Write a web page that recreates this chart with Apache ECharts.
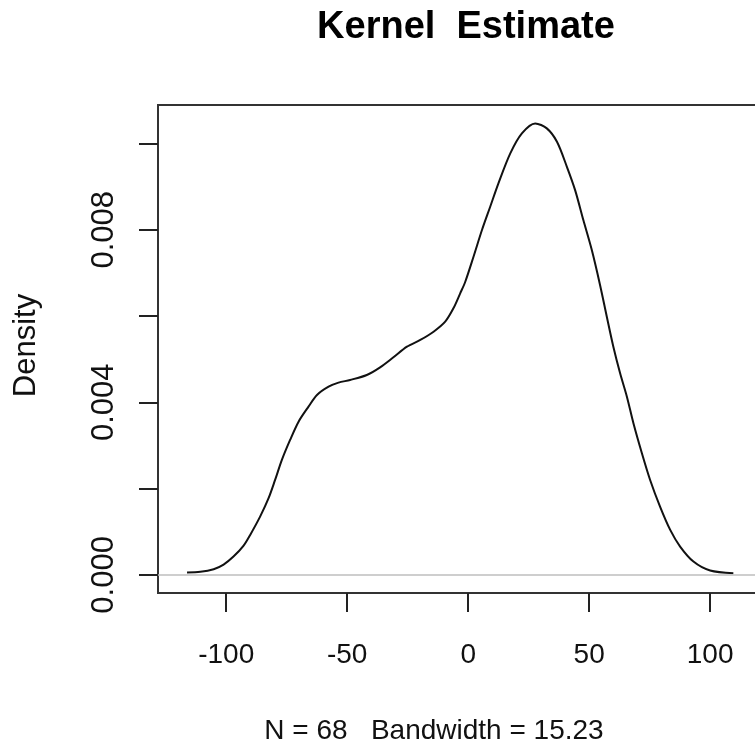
<!DOCTYPE html>
<html>
<head>
<meta charset="utf-8">
<script src="https://cdn.jsdelivr.net/npm/echarts@6/dist/echarts.min.js"></script>
<style>
html,body{margin:0;padding:0;background:#fff;}
#c{width:755px;height:754px;}
</style>
</head>
<body>
<div id="c"></div>
<script>
// Density curve (x, density)
var xs = [-116.2,-110.7,-105.2,-101.1,-97.0,-92.9,-90.1,-86.0,-82.5,-79.8,-77.0,-73.6,-70.1,-66.0,-62.5,-57.7,-53.6,-48.8,-41.9,-36.4,-30.9,-25.3,-19.8,-14.3,-9.5,-6.1,-3.3,-1.2,2.2,5.7,9.1,12.5,17.4,22.2,27.7,32.5,36.7,40.8,44.2,47.6,51.1,54.5,57.3,60.0,62.8,65.6,68.3,71.8,75.2,79.3,83.5,87.6,93.1,100.0,109.6];
var ys = [0.000053,0.00007,0.000132,0.000239,0.000424,0.000672,0.000927,0.00135,0.001777,0.0022,0.002664,0.003127,0.003551,0.003899,0.00417,0.004362,0.004455,0.004517,0.004633,0.004811,0.005043,0.005289,0.005444,0.005636,0.005868,0.006178,0.006525,0.006794,0.007373,0.007992,0.008532,0.009073,0.009768,0.010232,0.010463,0.010348,0.010037,0.009458,0.008918,0.008223,0.007528,0.00672,0.005983,0.005288,0.004672,0.00413,0.003514,0.002819,0.0022,0.001582,0.001042,0.000656,0.000308,0.0001,0.00004];
var xTicks = [-100,-50,0,50,100];
var yTicks = [0,0.002,0.004,0.006,0.008,0.010];
var yLabels = [0,0.004,0.008];
var titleText = 'Kernel  Estimate';
var subText = 'N = 68   Bandwidth = 15.23';
var yName = 'Density';

var data = xs.map(function(x,i){return [x, ys[i]];});
var FONT = 'Liberation Sans, Arial, sans-serif';
var chart = echarts.init(document.getElementById('c'));
chart.setOption({
  animation:false,
  backgroundColor:'#fff',
  title:[
    {text:titleText,left:466,top:9,textAlign:'center',padding:0,
     textStyle:{fontSize:38,fontWeight:'bold',fontFamily:FONT,color:'#000'}},
    {text:subText,left:434,top:717,textAlign:'center',padding:0,
     textStyle:{fontSize:28,fontWeight:'normal',fontFamily:FONT,color:'#111'}}
  ],
  grid:{show:true,left:158,top:105,width:616,height:488,outerBoundsMode:'none',containLabel:false,
    borderColor:'#333',borderWidth:2,backgroundColor:'transparent'},
  xAxis:{type:'value',min:-128.2,max:126.4,
    axisLine:{show:false,onZero:false},
    splitLine:{show:false},
    axisTick:{show:true,length:19,customValues:xTicks,lineStyle:{color:'#222',width:2}},
    axisLabel:{show:true,customValues:xTicks,margin:48,fontSize:28,fontFamily:FONT,color:'#111'}
  },
  yAxis:{type:'value',min:-0.00042,max:0.01089,
    name:yName,nameLocation:'middle',nameGap:116,
    nameTextStyle:{fontSize:31,fontFamily:FONT,color:'#111',padding:[0,0,0,7]},
    axisLine:{show:false,onZero:false},
    splitLine:{show:false},
    axisTick:{show:true,length:19,customValues:yTicks,lineStyle:{color:'#222',width:2}},
    axisLabel:{show:true,customValues:yLabels,rotate:90,margin:38,fontSize:31,fontFamily:FONT,color:'#111',
      formatter:function(v){return v.toFixed(3);}}
  },
  series:[{
    type:'line',data:data,smooth:0.3,showSymbol:false,symbol:'none',
    lineStyle:{color:'#111',width:2},
    markLine:{silent:true,symbol:['none','none'],label:{show:false},
      lineStyle:{color:'#bebebe',width:1.5,type:'solid'},
      data:[{yAxis:0}]}
  }]
});
</script>
</body>
</html>
